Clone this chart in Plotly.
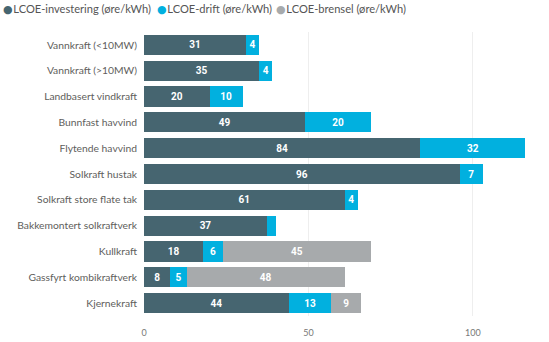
import plotly.graph_objects as go

categories = ["Vannkraft (<10MW)", "Vannkraft (>10MW)", "Landbasert vindkraft",
              "Bunnfast havvind", "Flytende havvind", "Solkraft hustak",
              "Solkraft store flate tak", "Bakkemontert solkraftverk", "Kullkraft",
              "Gassfyrt kombikraftverk", "Kjernekraft"]
investering = [31, 35, 20, 49, 84, 96, 61, 37.4, 18, 8, 44]
drift = [4, 4, 10, 20, 32, 7, 4, 2.7, 6, 5, 13]
brensel = [0, 0, 0, 0, 0, 0, 0, 0, 45, 48, 9]
series_names = ["LCOE-investering (øre/kWh)", "LCOE-drift (øre/kWh)", "LCOE-brensel (øre/kWh)"]
colors = ["#466570", "#01B0DF", "#A7AAAC"]
x_ticks = [0, 50, 100]

fig = go.Figure()
for name, vals, col in zip(series_names, [investering, drift, brensel], colors):
    fig.add_trace(go.Bar(
        y=categories, x=vals, name=name, orientation="h", showlegend=False,
        marker=dict(color=col, line=dict(width=0)),
        text=[f"{v:.0f}" if v > 0 else "" for v in vals],
        textposition="inside", insidetextanchor="middle",
        textfont=dict(color="white", size=10, family="Roboto", weight="bold"),
        hoverinfo="x+y",
    ))

# legend: one legend per series so entries sit where the reference puts them
legend_ids = ["legend", "legend2", "legend3"]
legend_px = [-37, 117, 236]  # left edge of each legend box, pixels from figure left
plot_w = 549 - 144 - 17
for name, col, lid in zip(series_names, colors, legend_ids):
    fig.add_trace(go.Scatter(
        x=[None], y=[None], mode="markers", legend=lid,
        name=f"<span style='color:{col};font-family:DejaVu Sans;font-size:11px'>●</span>&#8202;{name}",
        marker=dict(color=col, size=1, opacity=0)))

leg_common = dict(orientation="h", xanchor="left", y=1.134, yanchor="top",
                  font=dict(size=11.1, color="#555555", family="Lato"), itemwidth=30,
                  bgcolor="rgba(0,0,0,0)")
fig.update_layout(
    barmode="stack", bargap=0.22,
    width=549, height=342,
    margin=dict(l=144, r=17, t=32, b=26, autoexpand=False),
    paper_bgcolor="white", plot_bgcolor="white",
    font=dict(family="Lato", color="#605E5C"),
    uniformtext=dict(minsize=9, mode="hide"),
    legend=dict(x=(legend_px[0] - 144) / plot_w, **leg_common),
    legend2=dict(x=(legend_px[1] - 144) / plot_w, **leg_common),
    legend3=dict(x=(legend_px[2] - 144) / plot_w, **leg_common),
    showlegend=True,
)
fig.update_yaxes(autorange="reversed", tickfont=dict(size=10.3, color="#605E5C", family="Lato"),
                 ticks="", ticklabelstandoff=6, showgrid=False, automargin=False)
fig.update_xaxes(range=[0, 118], tickvals=x_ticks, showgrid=True, gridcolor="#EEEEEE",
                 gridwidth=1, zeroline=False, tickfont=dict(size=9, color="#777777"),
                 ticks="", ticklabelstandoff=10, automargin=False)
fig.write_html("out.html")
